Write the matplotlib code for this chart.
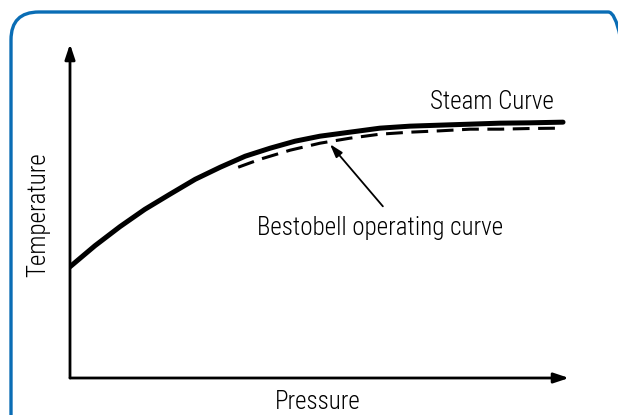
import matplotlib
matplotlib.use("Agg")
import matplotlib.pyplot as plt
from matplotlib.patches import FancyBboxPatch

# Curve readings (pressure 0-10, temperature 0-10, arbitrary units)
steam_pressure = [0.0, 0.50, 1.00, 1.50, 2.00, 2.51, 3.01, 3.51, 4.01, 4.51,
                  5.01, 5.61, 6.21, 6.81, 7.41, 8.02, 8.62, 9.22, 9.88]
steam_temp = [3.33, 3.96, 4.53, 5.05, 5.50, 5.95, 6.31, 6.64, 6.88, 7.09,
              7.24, 7.36, 7.48, 7.54, 7.57, 7.60, 7.63, 7.64, 7.66]

bestobell_pressure = [3.37, 3.81, 4.41, 5.01, 5.61, 6.21, 6.81, 7.41, 8.02, 8.62, 9.22, 9.82]
bestobell_temp = [6.31, 6.55, 6.82, 7.03, 7.18, 7.30, 7.36, 7.40, 7.45, 7.45, 7.47, 7.48]

x_label = "Pressure"
y_label = "Temperature"
steam_label = "Steam Curve"
bestobell_label = "Bestobell operating curve"

plt.rcParams["font.family"] = ["Roboto Condensed", "DejaVu Sans"]
plt.rcParams["font.weight"] = "light"

fig = plt.figure(figsize=(6.18, 4.15), dpi=100)

# blue rounded frame, runs off the right and bottom edges
frame = FancyBboxPatch((11 / 618, -30 / 415), 625 / 618, 433 / 415,
                       boxstyle="round,pad=0,rounding_size=0.045",
                       transform=fig.transFigure, facecolor="none",
                       edgecolor="#0a6db5", linewidth=2.4, mutation_aspect=618 / 415)
fig.patches.append(frame)

ax = fig.add_axes([70 / 618, 37 / 415, 499 / 618, 334 / 415])
ax.set_xlim(0, 10)
ax.set_ylim(0, 10)
ax.axis("off")

# axes with arrow heads
arrow_kw = dict(arrowstyle="-|>,head_length=0.9,head_width=0.3", color="black", lw=2.0,
                shrinkA=0, shrinkB=0)
ax.annotate("", xy=(0, 1), xytext=(0, 0), xycoords="axes fraction", arrowprops=arrow_kw)
ax.annotate("", xy=(1, 0), xytext=(0, 0), xycoords="axes fraction", arrowprops=arrow_kw)

ax.plot(steam_pressure, steam_temp, color="black", lw=3.6,
        solid_capstyle="round", solid_joinstyle="round")
ax.plot(bestobell_pressure, bestobell_temp, color="black", lw=2.2, dashes=(5.5, 2.8))

ax.text(9.70, 8.26, steam_label, ha="right", va="center", fontsize=18)
ax.text(6.21, 4.5, bestobell_label, ha="center", va="center", fontsize=18)
ax.annotate("", xy=(5.21, 7.0), xytext=(6.27, 5.14),
            arrowprops=dict(arrowstyle="-|>,head_length=0.8,head_width=0.25",
                            color="black", lw=1.3, shrinkA=0, shrinkB=0))

fig.text(318 / 618, 1 - 402 / 415, x_label, ha="center", va="center", fontsize=18)
fig.text(38 / 618, 1 - 215 / 415, y_label, ha="center", va="center", rotation=90, fontsize=18)

fig.savefig("out.png", dpi=100)
